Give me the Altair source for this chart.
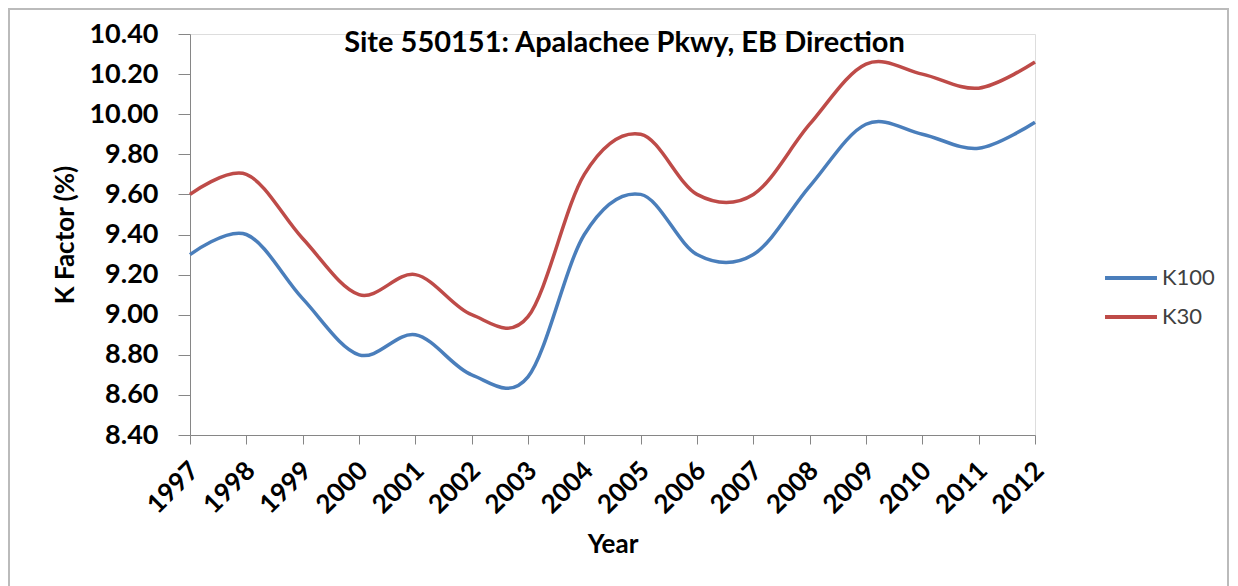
import altair as alt
import pandas as pd

years = list(range(1997, 2013))
k100 = [9.30, 9.40, 9.08, 8.80, 8.90, 8.70, 8.69, 9.40, 9.60, 9.30, 9.30, 9.64, 9.95, 9.90, 9.83, 9.96]
k30 = [9.60, 9.70, 9.38, 9.10, 9.20, 9.00, 8.99, 9.70, 9.90, 9.60, 9.60, 9.95, 10.25, 10.20, 10.13, 10.26]
series_names = ["K100", "K30"]
series_colors = ["#4A7EBB", "#BE4B48"]
y_ticks = [8.4, 8.6, 8.8, 9.0, 9.2, 9.4, 9.6, 9.8, 10.0, 10.2, 10.4]

rows = []
for y, a, b in zip(years, k100, k30):
    rows.append({"Year": y, "Series": "K100", "Value": a})
    rows.append({"Year": y, "Series": "K30", "Value": b})
df = pd.DataFrame(rows)

FONT = "Lato"

lines = alt.Chart(df).mark_line(interpolate="cardinal", tension=0.0, strokeWidth=3.5).encode(
    x=alt.X("Year:Q",
            scale=alt.Scale(domain=[1997, 2012], nice=False, zero=False),
            axis=alt.Axis(values=years, format="d", labelAngle=-45, labelAlign="right",
                          labelBaseline="top", labelFontSize=26, labelFontWeight="bold",
                          labelFont=FONT, labelColor="#000000", labelPadding=13,
                          labelOffset=-5,
                          tickSize=9, tickColor="#868686", domainColor="#868686",
                          grid=False, title="Year", titleFontSize=26, titleFont=FONT,
                          titleFontWeight="bold", titleColor="#000000", titlePadding=13,
                          labelOverlap=False, labelFlush=False)),
    y=alt.Y("Value:Q",
            scale=alt.Scale(domain=[8.4, 10.4], nice=False, zero=False),
            axis=alt.Axis(values=y_ticks, format=".2f", labelFontSize=27, labelFontWeight="bold",
                          labelFont=FONT, labelColor="#000000", labelPadding=20,
                          tickSize=12, tickColor="#868686", domainColor="#868686",
                          grid=False, title="K Factor (%)", titleFontSize=26, titleFont=FONT,
                          titleFontWeight="bold", titleColor="#000000", titlePadding=10)),
    color=alt.Color("Series:N",
                    scale=alt.Scale(domain=series_names, range=series_colors),
                    legend=alt.Legend(title=None, orient="none", legendX=913, legendY=216,
                                      symbolType="stroke", symbolSize=2700, symbolStrokeWidth=4,
                                      labelFontSize=22, labelFont=FONT, labelColor="#404040",
                                      labelOffset=3, rowPadding=-6)),
)

frame = alt.Chart(pd.DataFrame({"a": [0]})).mark_rect(
    fill=None, stroke="#BBBBBB", strokeWidth=2
).encode(x=alt.value(-181), x2=alt.value(1038), y=alt.value(-25), y2=alt.value(600))

chart = alt.layer(frame, lines).properties(
    width=845, height=401,
    title=alt.TitleParams("Site 550151: Apalachee Pkwy, EB Direction", anchor="middle",
                          frame="group", fontSize=29, font=FONT, fontWeight="bold",
                          color="#000000", offset=-18, dx=12, dy=32),
    autosize=alt.AutoSizeParams(type="none"),
    padding={"left": 182, "top": 26, "right": 195, "bottom": 151},
).configure_view(stroke=None).configure(background="white")

chart.save("out.html", embed_options={"renderer": "svg", "actions": False})
